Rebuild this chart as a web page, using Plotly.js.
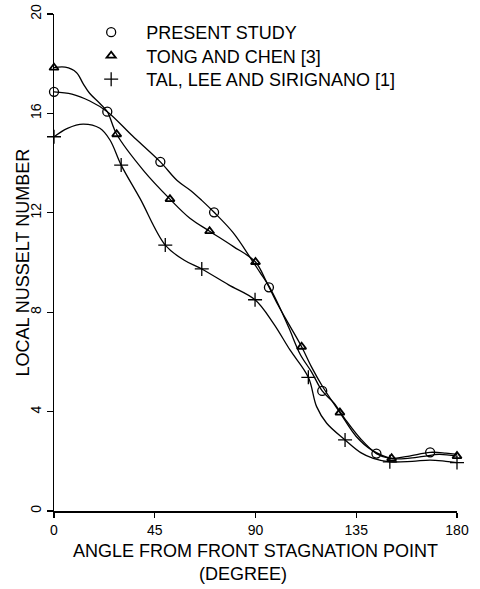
<!DOCTYPE html>
<html>
<head>
<meta charset="utf-8">
<script src="https://cdn.plot.ly/plotly-3.0.1.min.js"></script>
<style>html,body{margin:0;padding:0;background:#fff;}#chart{width:480px;height:589px;}</style>
</head>
<body>
<div id="chart"></div>
<script>
// ---- Data ----
// Present study: smooth curve and circle markers
var presentCurveX = [0, 8, 16, 23.8, 35, 47.5, 55, 61, 66, 71.5, 80, 88, 92, 96, 100, 105, 110, 115, 119.8, 125, 130, 137, 144, 150, 158, 168, 175, 180];
var presentCurveY = [16.87, 16.78, 16.5, 16.07, 15.1, 14.05, 13.3, 12.9, 12.5, 12.02, 11.2, 10.15, 9.6, 9.05, 8.35, 7.35, 6.3, 5.6, 4.83, 4.35, 3.7, 2.9, 2.31, 2.12, 2.2, 2.36, 2.33, 2.28];
var presentMarkX = [0, 23.8, 47.5, 71.5, 96, 119.8, 144, 168];
var presentMarkY = [16.87, 16.07, 14.05, 12.02, 9.0, 4.83, 2.31, 2.36];

// Tong and Chen [3]: curve and triangle markers
var tongCurveX = [0, 5, 10, 13, 16, 20.5, 23.8, 28, 40, 51.8, 60.7, 69.5, 80, 90, 95, 100, 105, 110.6, 115, 120, 127.7, 135, 142, 150.8, 158, 165, 172, 180];
var tongCurveY = [17.84, 17.86, 17.65, 17.2, 16.8, 16.4, 16.07, 15.16, 13.7, 12.55, 11.78, 11.26, 10.65, 10.02, 9.2, 8.3, 7.5, 6.61, 5.8, 5.0, 3.96, 3.0, 2.45, 2.12, 2.12, 2.2, 2.28, 2.21];
var tongMarkX = [0, 28, 51.8, 69.5, 90, 110.6, 127.7, 150.8, 180];
var tongMarkY = [17.84, 15.16, 12.55, 11.26, 10.02, 6.61, 3.96, 2.12, 2.21];

// Tal, Lee and Sirignano [1]: curve and plus markers
var talCurveX = [0, 6, 13, 20.5, 25, 30, 38.4, 49.7, 58, 66, 78, 89.8, 98, 105.4, 113.6, 117.3, 121.8, 130, 137, 142.6, 150, 160, 168, 175, 180];
var talCurveY = [15.06, 15.4, 15.57, 15.4, 14.93, 13.92, 12.58, 10.7, 10.1, 9.74, 9.1, 8.5, 7.55, 6.48, 5.38, 4.2, 3.53, 2.86, 2.35, 2.12, 1.98, 2.0, 2.05, 2.0, 1.95];
var talMarkX = [0, 30, 49.7, 66, 89.8, 113.6, 130, 150, 180];
var talMarkY = [15.06, 13.92, 10.7, 9.74, 8.5, 5.38, 2.86, 1.98, 1.95];

var seriesNames = ["PRESENT STUDY", "TONG AND CHEN [3]", "TAL, LEE AND SIRIGNANO [1]"];
var xTickVals = [0, 45, 90, 135, 180];
var yTickVals = [0, 4, 8, 12, 16, 20];

var FONT = "Liberation Sans, Arial, Helvetica, sans-serif";
var lineStyle = {color: "#000", width: 1.3, shape: "spline", smoothing: 1};

function curve(x, y) {
  return {x: x, y: y, type: "scatter", mode: "lines", line: lineStyle, showlegend: false, hoverinfo: "skip", cliponaxis: false};
}
function marks(x, y, name, marker, legendId) {
  return {x: x, y: y, type: "scatter", mode: "markers", name: name, marker: marker, cliponaxis: false, legend: legendId};
}

var traces = [
  curve(presentCurveX, presentCurveY),
  curve(tongCurveX, tongCurveY),
  curve(talCurveX, talCurveY),
  marks(presentMarkX, presentMarkY, seriesNames[0], {symbol: "circle-open", size: 9, color: "#000", line: {color: "#000", width: 1.3}}, "legend"),
  marks(tongMarkX, tongMarkY, seriesNames[1], {symbol: "triangle-up-open", size: 8, color: "#000", line: {color: "#000", width: 1.8}}, "legend2"),
  marks(talMarkX, talMarkY, seriesNames[2], {symbol: "cross-thin-open", size: 10, color: "#000", line: {color: "#000", width: 1.3}}, "legend3")
];

function legendBox(yPaper) {
  return {
    x: 0.055, y: yPaper, xanchor: "left", yanchor: "top",
    bgcolor: "rgba(0,0,0,0)", borderwidth: 0,
    font: {family: FONT, size: 18, color: "#000"},
    itemwidth: 60
  };
}

var layout = {
  width: 480, height: 589,
  margin: {l: 54, r: 23, t: 14, b: 78, pad: 0},
  paper_bgcolor: "#fff", plot_bgcolor: "#fff",
  font: {family: FONT, color: "#000", size: 14},
  showlegend: true,
  legend: legendBox(1.0),
  legend2: legendBox(0.9527),
  legend3: legendBox(0.9054),
  xaxis: {
    range: [0, 180], tickvals: xTickVals, ticktext: xTickVals.map(String),
    showline: true, linecolor: "#000", linewidth: 2, mirror: false,
    ticks: "outside", ticklen: 5, tickwidth: 1.3, tickcolor: "#000",
    showgrid: false, zeroline: false,
    tickfont: {family: FONT, size: 14},
    title: {text: "ANGLE FROM FRONT STAGNATION POINT", font: {family: FONT, size: 18}, standoff: 8}
  },
  yaxis: {
    range: [0, 20], tickvals: yTickVals, ticktext: yTickVals.map(String),
    tickangle: -90,
    showline: true, linecolor: "#000", linewidth: 1.5,
    ticks: "outside", ticklen: 6, tickwidth: 1.3, tickcolor: "#000",
    showgrid: false, zeroline: false,
    tickfont: {family: FONT, size: 14}
  },
  annotations: [{
    text: "(DEGREE)", xref: "paper", yref: "paper", x: 0.47, y: -0.126,
    xanchor: "center", yanchor: "middle", showarrow: false,
    font: {family: FONT, size: 18, color: "#000"}
  }, {
    text: "LOCAL NUSSELT NUMBER", xref: "paper", yref: "paper", x: -0.078, y: 0.499,
    xanchor: "center", yanchor: "middle", textangle: -90, showarrow: false,
    font: {family: FONT, size: 18, color: "#000"}
  }]
};

Plotly.newPlot("chart", traces, layout, {staticPlot: true, displayModeBar: false});
</script>
</body>
</html>
